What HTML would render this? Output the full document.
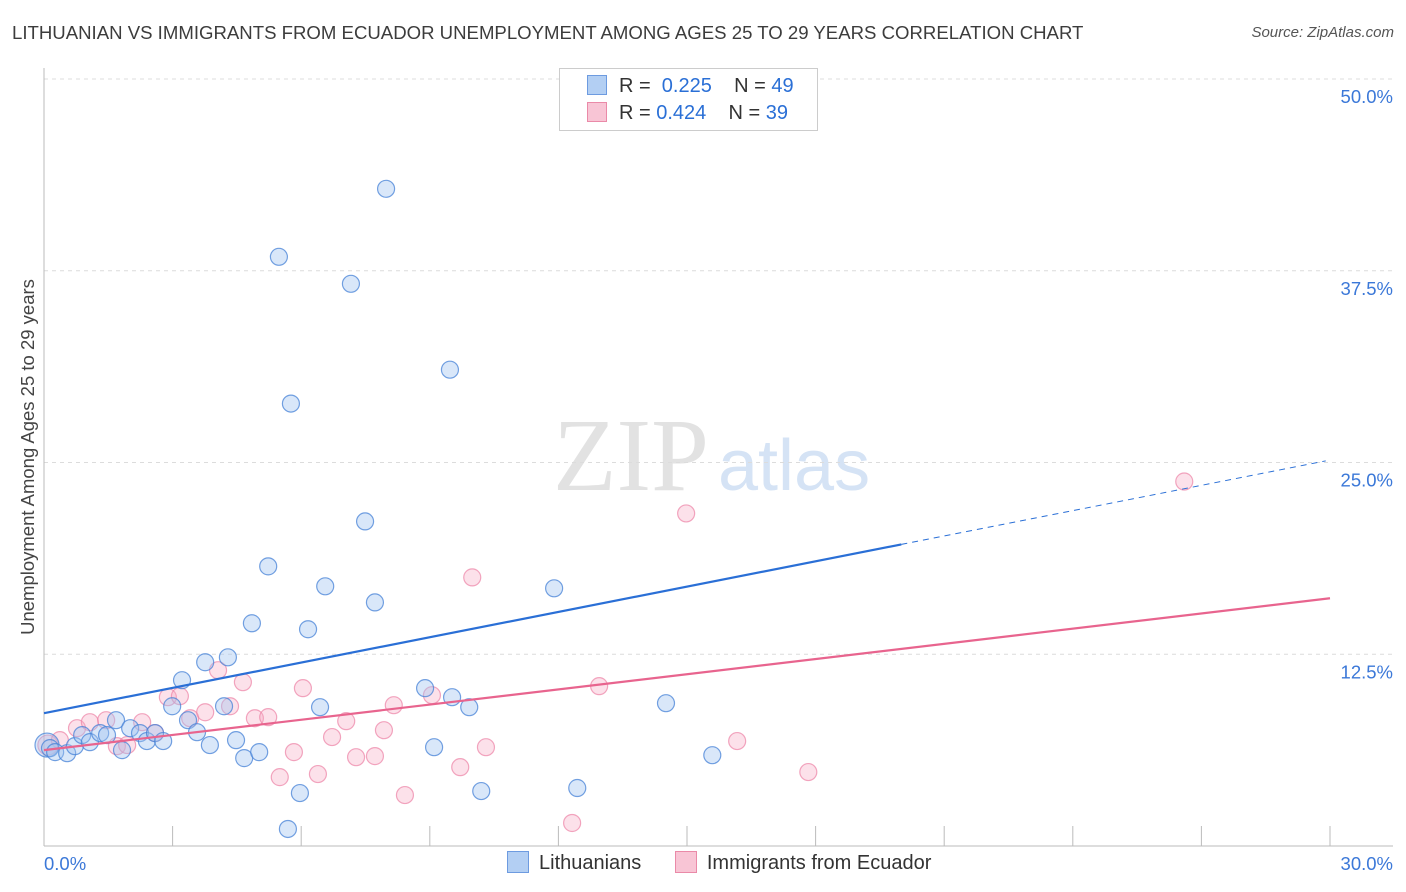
<!DOCTYPE html>
<html><head><meta charset="utf-8"><style>
body{margin:0;background:#fff;font-family:"Liberation Sans",sans-serif;}
#wrap{position:relative;width:1406px;height:892px;overflow:hidden;}
.t{position:absolute;white-space:nowrap;}
</style></head><body>
<div id="wrap">
<div class="t" style="left:12px;top:22px;font-size:18.6px;color:#3c3c3c;">LITHUANIAN VS IMMIGRANTS FROM ECUADOR UNEMPLOYMENT AMONG AGES 25 TO 29 YEARS CORRELATION CHART</div>
<div class="t" style="right:12px;top:24px;font-size:15px;color:#555;font-style:italic;">Source: ZipAtlas.com</div>
<svg id="svg" width="1406" height="892" style="position:absolute;left:0;top:0"></svg>
</div>
<script>
const yTicks=[12.5,25,37.5,50];
const yTickLabels=["12.5%","25.0%","37.5%","50.0%"];
const xTickLabels=["0.0%","30.0%"];
const blueX=[0.07,0.14,0.26,0.54,0.72,0.89,1.07,1.31,1.47,1.68,1.82,2.01,2.24,2.40,2.59,2.78,2.99,3.22,3.36,3.57,3.76,3.87,4.20,4.29,4.48,4.67,4.85,5.02,5.23,5.48,5.69,5.76,5.97,6.16,6.44,6.56,7.16,7.49,7.72,7.98,8.89,9.10,9.47,9.52,9.92,10.20,11.90,12.44,14.51,15.59];
const blueY=[6.58,6.38,6.12,6.05,6.51,7.23,6.77,7.36,7.23,8.20,6.25,7.68,7.36,6.84,7.36,6.84,9.11,10.81,8.20,7.42,11.98,6.58,9.11,12.30,6.90,5.73,14.52,6.12,18.23,38.41,1.11,28.84,3.45,14.13,9.05,16.93,36.65,21.16,15.88,42.84,10.29,6.44,31.05,9.70,9.05,3.58,16.80,3.78,9.31,5.92];
const pinkX=[0.09,0.37,0.77,1.07,1.45,1.70,1.94,2.29,2.59,2.89,3.17,3.41,3.76,4.06,4.34,4.64,4.92,5.23,5.50,5.83,6.04,6.39,6.72,7.05,7.28,7.72,7.93,8.16,8.42,9.05,9.71,9.99,10.31,12.32,12.95,14.98,16.17,17.83,26.60];
const pinkY=[6.58,6.90,7.68,8.07,8.20,6.51,6.58,8.07,7.36,9.70,9.77,8.33,8.72,11.46,9.11,10.68,8.33,8.40,4.49,6.12,10.29,4.69,7.10,8.14,5.79,5.86,7.55,9.18,3.32,9.83,5.14,17.51,6.44,1.50,10.42,21.68,6.84,4.82,23.76];
const blueTrend=[8.66,0.55]; const pinkTrend=[6.25,0.33];
const X0=44,X1=1330,Y0=846,Y50=79;
const sx=v=>X0+(v/30)*(X1-X0);
const sy=v=>Y0-(v/50)*(Y0-Y50);
const svg=document.getElementById('svg');const NS='http://www.w3.org/2000/svg';
function mk(tag,attrs,parent){const e=document.createElementNS(NS,tag);for(const k in attrs)e.setAttribute(k,attrs[k]);(parent||svg).appendChild(e);return e;}
let w=mk('text',{x:553,y:490,'font-size':104,fill:'#e2e2e2','font-family':'Liberation Serif'});w.textContent='ZIP';


let w2=mk('text',{x:718,y:490,'font-size':72,fill:'#d5e3f5','font-family':'Liberation Sans'});w2.textContent='atlas';


yTicks.forEach((t,i)=>{let g=mk('line',{x1:X0,x2:1393,y1:sy(t),y2:sy(t),stroke:'#dcdcdc','stroke-dasharray':'4,4'});


let l=mk('text',{x:1393,y:sy(t)+24,'text-anchor':'end','font-size':18.5,fill:'#3b78d8'});l.textContent=yTickLabels[i];

});
let ya=mk('line',{x1:X0,x2:X0,y1:68,y2:Y0,stroke:'#bbb'});


let xa=mk('line',{x1:X0,x2:1393,y1:Y0,y2:Y0,stroke:'#bbb'});


for(let i=1;i<=10;i++){let tk=mk('line',{x1:sx(i*3),x2:sx(i*3),y1:826,y2:Y0,stroke:'#bbb'});

}
[[0,'start',44],[30,'end',1393]].forEach((a,i)=>{let t=mk('text',{x:a[2],y:870,'text-anchor':a[1],'font-size':18.5,fill:'#3b78d8'});t.textContent=xTickLabels[i];

});
let yt=mk('text',{x:34,y:457,'text-anchor':'middle','font-size':18.5,fill:'#444',transform:'rotate(-90 34 457)'});yt.textContent='Unemployment Among Ages 25 to 29 years';


pinkX.forEach((x,i)=>{let c=mk('circle',{cx:sx(x),cy:sy(pinkY[i]),r:i==0?10:8.5,fill:'rgba(246,170,195,0.35)',stroke:'rgba(236,130,165,0.7)','stroke-width':1.2});

});
blueX.forEach((x,i)=>{let c=mk('circle',{cx:sx(x),cy:sy(blueY[i]),r:i==0?12:8.5,fill:'rgba(160,195,240,0.4)',stroke:'rgba(70,130,215,0.75)','stroke-width':1.2});

});
let bl=mk('line',{x1:sx(0),y1:sy(blueTrend[0]),x2:sx(20),y2:sy(blueTrend[0]+blueTrend[1]*20),stroke:'#2a6fd6','stroke-width':2.2});


let bd=mk('line',{x1:sx(20),y1:sy(blueTrend[0]+blueTrend[1]*20),x2:sx(29.9),y2:sy(blueTrend[0]+blueTrend[1]*29.9),stroke:'#2a6fd6','stroke-width':1,'stroke-dasharray':'6,5'});


let pl=mk('line',{x1:sx(0),y1:sy(pinkTrend[0]),x2:sx(30),y2:sy(pinkTrend[0]+pinkTrend[1]*30),stroke:'#e8648e','stroke-width':2.2});


</script>
<div class="t" style="left:559px;top:68px;width:257px;height:61px;border:1px solid #ccc;background:#fff;font-size:20px;color:#333;">
<div style="position:absolute;left:27px;top:6px;"><span style="display:inline-block;width:18px;height:18px;background:#b3cff3;border:1px solid #6d9be0;vertical-align:-3px;margin-right:12px;"></span>R = <span style="color:#2a6fd6">&nbsp;0.225</span>&nbsp;&nbsp;&nbsp;&nbsp;N = <span style="color:#2a6fd6">49</span></div>
<div style="position:absolute;left:27px;top:33px;"><span style="display:inline-block;width:18px;height:18px;background:#f8c5d5;border:1px solid #ea8aa8;vertical-align:-3px;margin-right:12px;"></span>R = <span style="color:#2a6fd6">0.424</span>&nbsp;&nbsp;&nbsp;&nbsp;N = <span style="color:#2a6fd6">39</span></div>
</div>
<div class="t" style="left:507px;top:851px;font-size:20px;color:#333;">
<span><span style="display:inline-block;width:20px;height:20px;background:#b3cff3;border:1px solid #6d9be0;vertical-align:-4px;margin-right:10px;"></span>Lithuanians</span>
<span style="margin-left:28px;"><span style="display:inline-block;width:20px;height:20px;background:#f8c5d5;border:1px solid #ea8aa8;vertical-align:-4px;margin-right:10px;"></span>Immigrants from Ecuador</span>
</div>
</body></html>
